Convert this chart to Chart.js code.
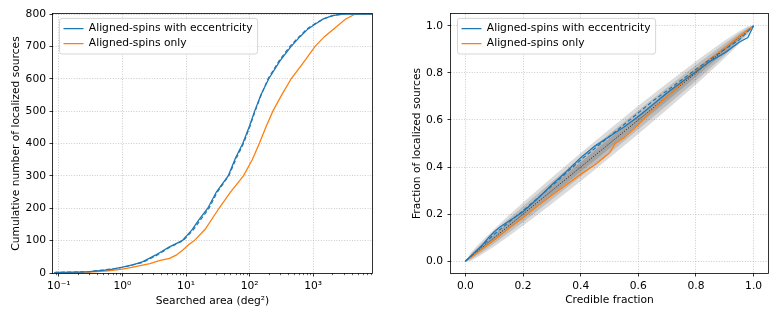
<!DOCTYPE html>
<html><head><meta charset="utf-8">
<script src="https://cdn.jsdelivr.net/npm/chart.js@4.4.1/dist/chart.umd.min.js"></script>
<style>
html,body{margin:0;padding:0;background:#fff;}
#wrap{position:relative;width:780px;height:328px;overflow:hidden;background:#fff;}
canvas{position:absolute;top:0;}
#c1{left:0;} #c2{left:390px;}
</style></head><body>
<div id="wrap"><canvas id="c1" width="390" height="328"></canvas><canvas id="c2" width="390" height="328"></canvas></div>
<script>
// ---------- Left panel: cumulative number vs searched area ----------
const areaTickValues = [0.1, 1, 10, 100, 1000];
const areaTickLabels = ['10\u207B\u00B9', '10\u2070', '10\u00B9', '10\u00B2', '10\u00B3'];
const countTickValues = [0, 100, 200, 300, 400, 500, 600, 700, 800];

const eccArea  = [0.085, 0.09, 0.2, 0.3, 0.5, 0.7, 1.0, 1.5, 2.1, 3.3, 5.4, 8.7, 12.4, 16, 22, 30, 46, 60, 78, 100, 120, 150, 200, 300, 450, 620, 830, 1100, 1420, 2000, 3000, 8400];
const eccCount = [0, 2, 3, 4, 8, 12, 18, 26, 35, 55, 80, 100, 133, 165, 200, 250, 300, 355, 400, 455, 500, 550, 600, 655, 700, 730, 754, 770, 784, 795, 800, 800];

const eccAltArea  = [0.085, 0.09, 0.3, 1.0, 2.1, 3.3, 5.4, 9, 13, 17, 23, 31, 47, 62, 80, 102, 122, 152, 195, 290, 430, 600, 800, 1100, 1500, 2200, 3000, 8400];
const eccAltCount = [0, 2, 4, 17, 33, 52, 78, 100, 133, 165, 200, 250, 300, 355, 400, 455, 500, 550, 600, 655, 700, 730, 754, 772, 786, 797, 800, 800];

const alnArea  = [0.085, 0.3, 0.6, 1.0, 1.6, 2.7, 3.8, 5.5, 7, 8.9, 11, 13.5, 20, 33, 50, 80, 110, 142, 180, 232, 320, 450, 700, 1070, 1500, 2100, 3200, 4600, 8400];
const alnCount = [0, 3, 7, 12, 20, 29, 38, 45, 55, 71, 87, 100, 135, 200, 250, 300, 350, 400, 450, 500, 550, 600, 650, 700, 730, 754, 784, 800, 800];

// ---------- Right panel: P-P plot ----------
const fracTickValues = [0, 0.2, 0.4, 0.6, 0.8, 1.0];
const fracTickLabels = ['0.0', '0.2', '0.4', '0.6', '0.8', '1.0'];

const ppEccX = [0, 0.03, 0.06, 0.08, 0.1, 0.12, 0.15, 0.2, 0.25, 0.3, 0.35, 0.4, 0.45, 0.5, 0.55, 0.6, 0.65, 0.7, 0.75, 0.8, 0.85, 0.9, 0.95, 0.98, 1.0];
const ppEccY = [0, 0.035, 0.07, 0.1, 0.125, 0.145, 0.17, 0.21, 0.265, 0.325, 0.38, 0.44, 0.49, 0.53, 0.57, 0.615, 0.665, 0.715, 0.76, 0.805, 0.85, 0.885, 0.93, 0.95, 1.0];

const ppEccAltX = [0, 0.05, 0.1, 0.15, 0.2, 0.3, 0.4, 0.5, 0.6, 0.65, 0.7, 0.8, 0.9, 0.95, 1.0];
const ppEccAltY = [0, 0.055, 0.115, 0.165, 0.215, 0.32, 0.43, 0.53, 0.63, 0.68, 0.725, 0.815, 0.9, 0.94, 1.0];

const ppAlnX = [0, 0.05, 0.1, 0.15, 0.2, 0.25, 0.3, 0.35, 0.4, 0.45, 0.48, 0.5, 0.52, 0.55, 0.6, 0.65, 0.7, 0.75, 0.8, 0.85, 0.9, 0.95, 1.0];
const ppAlnY = [0, 0.045, 0.09, 0.14, 0.185, 0.235, 0.28, 0.325, 0.37, 0.41, 0.44, 0.46, 0.5, 0.525, 0.58, 0.645, 0.7, 0.755, 0.81, 0.86, 0.905, 0.955, 1.0];

const diagX = [0, 1];
const diagY = [0, 1];

const bandX    = [0, 0.02, 0.05, 0.1, 0.15, 0.2, 0.3, 0.4, 0.5, 0.6, 0.7, 0.8, 0.85, 0.9, 0.95, 0.98, 1.0];
const bandHalf1 = [0, 0.006, 0.010, 0.013, 0.015, 0.017, 0.019, 0.020, 0.021, 0.020, 0.019, 0.017, 0.015, 0.013, 0.010, 0.006, 0];
const bandHalf2 = [0, 0.012, 0.018, 0.025, 0.029, 0.033, 0.038, 0.040, 0.041, 0.040, 0.038, 0.033, 0.029, 0.025, 0.018, 0.012, 0];
const bandHalf3 = [0, 0.018, 0.027, 0.037, 0.044, 0.049, 0.056, 0.060, 0.061, 0.060, 0.056, 0.049, 0.044, 0.037, 0.027, 0.018, 0];

const LABEL_ECC = 'Aligned-spins with eccentricity';
const LABEL_ALN = 'Aligned-spins only';
const BLUE = '#1f77b4', ORANGE = '#ff7f0e';

// ---------- helpers ----------
const FONT = "'DejaVu Sans', 'Noto Sans', sans-serif";
const FS = 10.7;
Chart.defaults.font.family = FONT;
Chart.defaults.font.size = FS;
Chart.defaults.color = '#000';

const pts = (xs, ys) => xs.map((x, i) => ({x: x, y: ys[i]}));

const frameBox = {
  id: 'frameBox',
  afterDraw(chart) {
    const a = chart.chartArea, ctx = chart.ctx;
    ctx.save();
    ctx.strokeStyle = '#000';
    ctx.lineWidth = 0.8;
    ctx.strokeRect(Math.round(a.left) - 0.5, Math.round(a.top) - 0.5,
                   Math.round(a.right) - Math.round(a.left) + 1, Math.round(a.bottom) - Math.round(a.top) + 1);
    ctx.restore();
  }
};

function drawLegendFrame(lg) {
  const ctx = lg.ctx;
  const pad = lg.options.labels.padding;
  const items = lg.legendItems || [];
  if (!items.length) return;
  ctx.save();
  ctx.font = FS + "px " + FONT;
  let maxW = 0;
  items.forEach(it => { maxW = Math.max(maxW, ctx.measureText(it.text).width); });
  const x0 = lg.left + pad;
  const c1 = lg.top + pad + FS / 2;
  const cN = c1 + (items.length - 1) * (FS + pad);
  const L = x0 - 4, T = c1 - 10.3, R = x0 + 20 + FS / 2 + maxW + 5, B = cN + 10.3;
  ctx.beginPath();
  if (ctx.roundRect) ctx.roundRect(L, T, R - L, B - T, 2.5); else ctx.rect(L, T, R - L, B - T);
  ctx.fillStyle = 'rgba(255,255,255,0.85)';
  ctx.fill();
  ctx.strokeStyle = '#cccccc';
  ctx.lineWidth = 0.8;
  ctx.stroke();
  ctx.restore();
}

const legendFrame = {
  id: 'legendFrame',
  afterLayout(chart) {
    const lg = chart.legend;
    if (!lg) return;
    const pad = lg.options.labels.padding;
    const dx = 10.5 - pad;
    const dy = 14.7 - pad - FS / 2;
    lg.left = chart.chartArea.left + dx;
    lg.right = chart.chartArea.right;
    lg.top = chart.chartArea.top + dy;
    lg.bottom = chart.chartArea.bottom;
    if (!lg._framePatched) {
      const orig = lg.draw;
      lg.draw = function (area) { drawLegendFrame(this); orig.call(this, area); };
      lg._framePatched = true;
    }
  }
};

const minorTicks = {
  id: 'minorTicks',
  afterDraw(chart) {
    const vals = chart.options.plugins.minorTicks && chart.options.plugins.minorTicks.values;
    if (!vals) return;
    const sx = chart.scales.x, a = chart.chartArea, ctx = chart.ctx;
    ctx.save();
    ctx.strokeStyle = '#000';
    ctx.lineWidth = 0.6;
    vals.forEach(v => {
      if (v <= sx.min || v >= sx.max) return;
      const px = Math.round(sx.getPixelForValue(v)) + 0.5;
      ctx.beginPath();
      ctx.moveTo(px, a.bottom);
      ctx.lineTo(px, a.bottom + 2.2);
      ctx.stroke();
    });
    ctx.restore();
  }
};

function legendOpts() {
  return {
    display: true,
    position: 'chartArea',
    align: 'start',
    labels: {
      usePointStyle: true,
      pointStyle: 'line',
      pointStyleWidth: 20,
      padding: 15 - FS,
      color: '#000',
      font: {family: FONT, size: FS},
      filter: (item) => item.text === LABEL_ECC || item.text === LABEL_ALN
    }
  };
}

const gridCommon = {
  color: 'rgba(170,170,170,0.75)',
  lineWidth: 0.8,
  tickColor: '#000',
  tickLength: 3.5,
  tickWidth: 0.8,
  tickBorderDash: [],
  z: -1
};
const borderCommon = {display: false, dash: [1, 1.6]};

// ---------- minor tick positions for the log axis ----------
const areaMinor = [];
for (let e = -2; e <= 3; e++) for (let m = 2; m <= 9; m++) areaMinor.push(m * Math.pow(10, e));

// ---------- Left chart ----------
new Chart(document.getElementById('c1'), {
  type: 'line',
  data: {
    datasets: [
      {label: LABEL_ECC, data: pts(eccArea, eccCount), borderColor: BLUE, backgroundColor: BLUE, borderWidth: 1.3, pointRadius: 0, tension: 0, fill: false},
      {label: '', data: pts(eccAltArea, eccAltCount), borderColor: BLUE, backgroundColor: BLUE, borderWidth: 1.2, borderDash: [4, 2.5], pointRadius: 0, tension: 0, fill: false},
      {label: LABEL_ALN, data: pts(alnArea, alnCount), borderColor: ORANGE, backgroundColor: ORANGE, borderWidth: 1.3, pointRadius: 0, tension: 0, fill: false}
    ]
  },
  options: {
    responsive: false,
    animation: false,
    events: [],
    layout: {padding: {left: 0, top: 14, right: 18, bottom: 0}},
    plugins: {
      legend: legendOpts(),
      tooltip: {enabled: false},
      minorTicks: {values: areaMinor}
    },
    scales: {
      x: {
        type: 'logarithmic',
        min: 0.081, max: 8400,
        afterBuildTicks: (s) => { s.ticks = areaTickValues.map(v => ({value: v})); },
        afterFit: (s) => { s.height = 55; },
        ticks: {autoSkip: false, maxRotation: 0, padding: 3.5, color: '#000', font: {size: FS},
                callback: (v, i) => areaTickLabels[i]},
        grid: gridCommon,
        border: borderCommon,
        title: {display: true, text: 'Searched area (deg\u00B2)', color: '#000', font: {size: FS}, padding: {top: 0, bottom: 20}}
      },
      y: {
        type: 'linear',
        min: 0, max: 800,
        afterBuildTicks: (s) => { s.ticks = countTickValues.map(v => ({value: v})); },
        afterFit: (s) => { s.width = 53; },
        ticks: {autoSkip: false, padding: 3.5, color: '#000', font: {size: FS}, callback: (v) => String(v)},
        grid: gridCommon,
        border: borderCommon,
        title: {display: true, text: 'Cumulative number of localized sources', color: '#000', font: {size: FS}, padding: {top: 10, bottom: 0}}
      }
    }
  },
  plugins: [frameBox, legendFrame, minorTicks]
});

// ---------- Right chart ----------
const bandSets = [];
[[bandHalf3], [bandHalf2], [bandHalf1]].forEach(([hw]) => {
  bandSets.push({label: '', data: pts(bandX, bandX.map((x, i) => x + hw[i])), borderWidth: 0, borderColor: 'rgba(0,0,0,0)', backgroundColor: 'rgba(0,0,0,0.14)', pointRadius: 0, tension: 0, fill: '+1'});
  bandSets.push({label: '', data: pts(bandX, bandX.map((x, i) => x - hw[i])), borderWidth: 0, borderColor: 'rgba(0,0,0,0)', backgroundColor: 'rgba(0,0,0,0)', pointRadius: 0, tension: 0, fill: false});
});

new Chart(document.getElementById('c2'), {
  type: 'line',
  data: {
    datasets: [
      {label: LABEL_ECC, data: pts(ppEccX, ppEccY), borderColor: BLUE, backgroundColor: BLUE, borderWidth: 1.3, pointRadius: 0, tension: 0, fill: false},
      {label: '', data: pts(ppEccAltX, ppEccAltY), borderColor: BLUE, backgroundColor: BLUE, borderWidth: 1.2, borderDash: [4, 2.5], pointRadius: 0, tension: 0, fill: false},
      {label: LABEL_ALN, data: pts(ppAlnX, ppAlnY), borderColor: ORANGE, backgroundColor: ORANGE, borderWidth: 1.3, pointRadius: 0, tension: 0, fill: false},
      {label: '', data: pts(diagX, diagY), borderColor: 'rgba(0,0,0,0.9)', backgroundColor: 'rgba(0,0,0,0)', borderWidth: 0.9, borderDash: [1, 1.5], pointRadius: 0, tension: 0, fill: false},
      ...bandSets
    ]
  },
  options: {
    responsive: false,
    animation: false,
    events: [],
    layout: {padding: {left: 0, top: 14, right: 12, bottom: 0}},
    plugins: {
      legend: legendOpts(),
      tooltip: {enabled: false}
    },
    scales: {
      x: {
        type: 'linear',
        min: -0.05, max: 1.05,
        afterBuildTicks: (s) => { s.ticks = fracTickValues.map(v => ({value: v})); },
        afterFit: (s) => { s.height = 55; },
        ticks: {autoSkip: false, maxRotation: 0, padding: 3.5, color: '#000', font: {size: FS},
                callback: (v, i) => fracTickLabels[i]},
        grid: gridCommon,
        border: borderCommon,
        title: {display: true, text: 'Credible fraction', color: '#000', font: {size: FS}, padding: {top: 0, bottom: 21.5}}
      },
      y: {
        type: 'linear',
        min: -0.05, max: 1.05,
        afterBuildTicks: (s) => { s.ticks = fracTickValues.map(v => ({value: v})); },
        afterFit: (s) => { s.width = 61; },
        ticks: {autoSkip: false, padding: 4.5, color: '#000', font: {size: FS},
                callback: (v, i) => fracTickLabels[i]},
        grid: gridCommon,
        border: borderCommon,
        title: {display: true, text: 'Fraction of localized sources', color: '#000', font: {size: FS}, padding: {top: 20.5, bottom: 0}}
      }
    }
  },
  plugins: [frameBox, legendFrame]
});
</script>
</body></html>
